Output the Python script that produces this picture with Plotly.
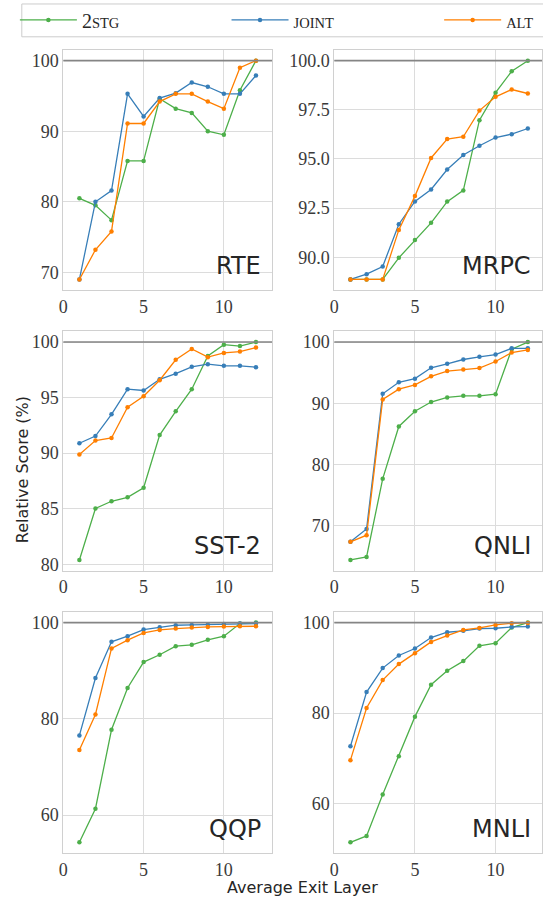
import plotly.graph_objects as go

layers = [1, 2, 3, 4, 5, 6, 7, 8, 9, 10, 11, 12]

series_names = ["2<span style='font-size:14.5px'>STG</span>",
                "<span style='font-size:14.5px'>JOINT</span>",
                "<span style='font-size:14.5px'>ALT</span>"]
series_colors = ["#4daf4a", "#377eb8", "#ff7f00"]

rte_2stg = [80.5, 79.5, 77.4, 85.8, 85.8, 94.6, 93.2, 92.6, 90.0, 89.5, 95.8, 100.0]
rte_joint = [69.0, 80.0, 81.6, 95.3, 92.1, 94.7, 95.4, 96.9, 96.3, 95.3, 95.3, 97.9]
rte_alt = [69.0, 73.2, 75.8, 91.1, 91.1, 94.2, 95.3, 95.3, 94.2, 93.2, 99.0, 100.0]

mrpc_2stg = [88.87, 88.87, 88.87, 89.97, 90.88, 91.75, 92.83, 93.40, 96.97, 98.37, 99.46, 100.0]
mrpc_joint = [88.87, 89.14, 89.53, 91.68, 92.84, 93.45, 94.46, 95.20, 95.67, 96.09, 96.26, 96.55]
mrpc_alt = [88.87, 88.87, 88.87, 91.39, 93.11, 95.05, 96.01, 96.13, 97.46, 98.16, 98.53, 98.33]

sst2_2stg = [80.39, 85.02, 85.67, 86.03, 86.89, 91.63, 93.77, 95.76, 98.75, 99.76, 99.64, 100.0]
sst2_joint = [90.89, 91.54, 93.50, 95.76, 95.64, 96.65, 97.15, 97.77, 98.01, 97.86, 97.86, 97.74]
sst2_alt = [89.88, 91.13, 91.37, 94.13, 95.13, 96.56, 98.40, 99.38, 98.64, 99.02, 99.14, 99.50]

qnli_2stg = [64.40, 64.88, 77.65, 86.21, 88.69, 90.20, 90.95, 91.22, 91.22, 91.49, 98.82, 100.0]
qnli_joint = [67.36, 69.46, 91.54, 93.43, 94.02, 95.80, 96.45, 97.15, 97.58, 97.95, 98.98, 98.98]
qnli_alt = [67.36, 68.44, 90.63, 92.30, 93.00, 94.40, 95.26, 95.53, 95.75, 96.82, 98.28, 98.71]

qqp_2stg = [54.34, 61.31, 77.72, 86.41, 91.79, 93.31, 95.10, 95.38, 96.41, 97.17, 99.79, 100.0]
qqp_joint = [76.55, 88.48, 96.00, 97.17, 98.55, 99.03, 99.45, 99.52, 99.59, 99.72, 99.79, 99.79]
qqp_alt = [73.52, 80.90, 94.62, 96.34, 97.86, 98.48, 98.76, 98.97, 99.10, 99.17, 99.24, 99.24]

mnli_2stg = [51.49, 52.88, 62.06, 70.50, 79.23, 86.28, 89.36, 91.49, 94.86, 95.45, 98.90, 100.0]
mnli_joint = [72.70, 84.66, 89.95, 92.73, 94.28, 96.70, 97.87, 98.17, 98.68, 98.75, 99.05, 99.12]
mnli_alt = [69.62, 81.14, 87.30, 90.83, 93.25, 95.74, 97.14, 98.39, 98.83, 99.49, 99.85, 99.93]

task_names = ["RTE", "MRPC", "SST-2", "QNLI", "QQP", "MNLI"]
task_series = [
    (rte_2stg, rte_joint, rte_alt),
    (mrpc_2stg, mrpc_joint, mrpc_alt),
    (sst2_2stg, sst2_joint, sst2_alt),
    (qnli_2stg, qnli_joint, qnli_alt),
    (qqp_2stg, qqp_joint, qqp_alt),
    (mnli_2stg, mnli_joint, mnli_alt),
]
y_ticks = [
    [70, 80, 90, 100],
    [90, 92.5, 95, 97.5, 100],
    [80, 85, 90, 95, 100],
    [70, 80, 90, 100],
    [60, 80, 100],
    [60, 80, 100],
]
x_ticks = [0, 5, 10]

W, H = 543, 903
col_px = [(59, 270), (333, 543)]
row_px = [(49, 291), (332, 573), (614, 857)]
x_ranges = [[0, 13], [0, 12.88]]
legend_ids = ["legend", "legend2", "legend3"]
legend_x_px = [10, 224, 439]

SERIF = "Liberation Serif"
fig = go.Figure()
tick_font = dict(family=SERIF, size=18, color="#3a3a3a")

for i, (name, ser) in enumerate(zip(task_names, task_series)):
    r, c = divmod(i, 2)
    ax = "" if i == 0 else str(i + 1)
    for k, vals in enumerate(ser):
        fig.add_trace(go.Scatter(
            x=layers, y=vals, mode="lines+markers",
            line=dict(color=series_colors[k], width=1.3),
            marker=dict(color=series_colors[k], size=4.5),
            name=series_names[k], legendgroup=str(k), showlegend=(i == 0),
            legend=legend_ids[k],
            xaxis="x" + ax, yaxis="y" + ax,
        ))
    allv = [v for s in ser for v in s]
    lo, hi = min(allv), max(allv)
    pad = (hi - lo) * 0.05
    x0, x1 = col_px[c]
    t, b = row_px[r]
    fig.update_layout(**{
        "xaxis" + ax: dict(domain=[x0 / W, x1 / W], range=x_ranges[c], anchor="y" + ax,
                           tickvals=x_ticks, showgrid=True, gridcolor="#dcdcdc", gridwidth=1,
                           showline=True, linecolor="#d0d0d0", linewidth=1, mirror=True,
                           zeroline=False, ticks="", tickfont=tick_font),
        "yaxis" + ax: dict(domain=[1 - b / H, 1 - t / H], range=[lo - pad, hi + pad], anchor="x" + ax,
                           tickvals=y_ticks[i], tickformat=".1f" if i == 1 else "d",
                           showgrid=True, gridcolor="#dcdcdc", gridwidth=1,
                           showline=True, linecolor="#d0d0d0", linewidth=1, mirror=True,
                           zeroline=False, ticks="", tickfont=tick_font),
    })
    fig.add_shape(type="line", xref="x" + ax + " domain", yref="y" + ax,
                  x0=0, x1=1, y0=100, y1=100, line=dict(color="#858585", width=1.6), layer="above")
    fig.add_annotation(text=name, xref="x" + ax + " domain", yref="y" + ax + " domain",
                       x=0.955, y=0.035, xanchor="right", yanchor="bottom", showarrow=False,
                       font=dict(family="DejaVu Sans", size=24, color="#262626"))

fig.add_annotation(text="Relative Score (%)", xref="paper", yref="paper",
                   x=18 / W, y=1 - 471 / H, textangle=-90, showarrow=False,
                   xanchor="center", yanchor="middle",
                   font=dict(family="DejaVu Sans", size=16, color="#262626"))
fig.add_annotation(text="Average Exit Layer", xref="paper", yref="paper",
                   x=301 / W, y=1 - 903 / H, showarrow=False,
                   xanchor="center", yanchor="bottom",
                   font=dict(family="DejaVu Sans", size=16, color="#262626"))

# legend frame
fig.add_shape(type="rect", xref="paper", yref="paper",
              x0=17 / W, x1=1.02, y0=1 - 36 / H, y1=1 - 3 / H,
              line=dict(color="#cccccc", width=1), fillcolor="white", layer="above")

legend_common = dict(orientation="h", yanchor="middle", xanchor="left",
                     bgcolor="rgba(0,0,0,0)", borderwidth=0, itemwidth=57,
                     font=dict(family=SERIF, size=20, color="#262626"))
fig.update_layout(
    width=W, height=H, margin=dict(l=0, r=0, t=0, b=0),
    paper_bgcolor="white", plot_bgcolor="white",
    font=dict(family=SERIF),
    legend=dict(x=legend_x_px[0] / W, y=1 - 19 / H, **legend_common),
    legend2=dict(x=legend_x_px[1] / W, y=1 - 19 / H, **legend_common),
    legend3=dict(x=legend_x_px[2] / W, y=1 - 19 / H, **legend_common),
)

fig.write_html("out.html")
